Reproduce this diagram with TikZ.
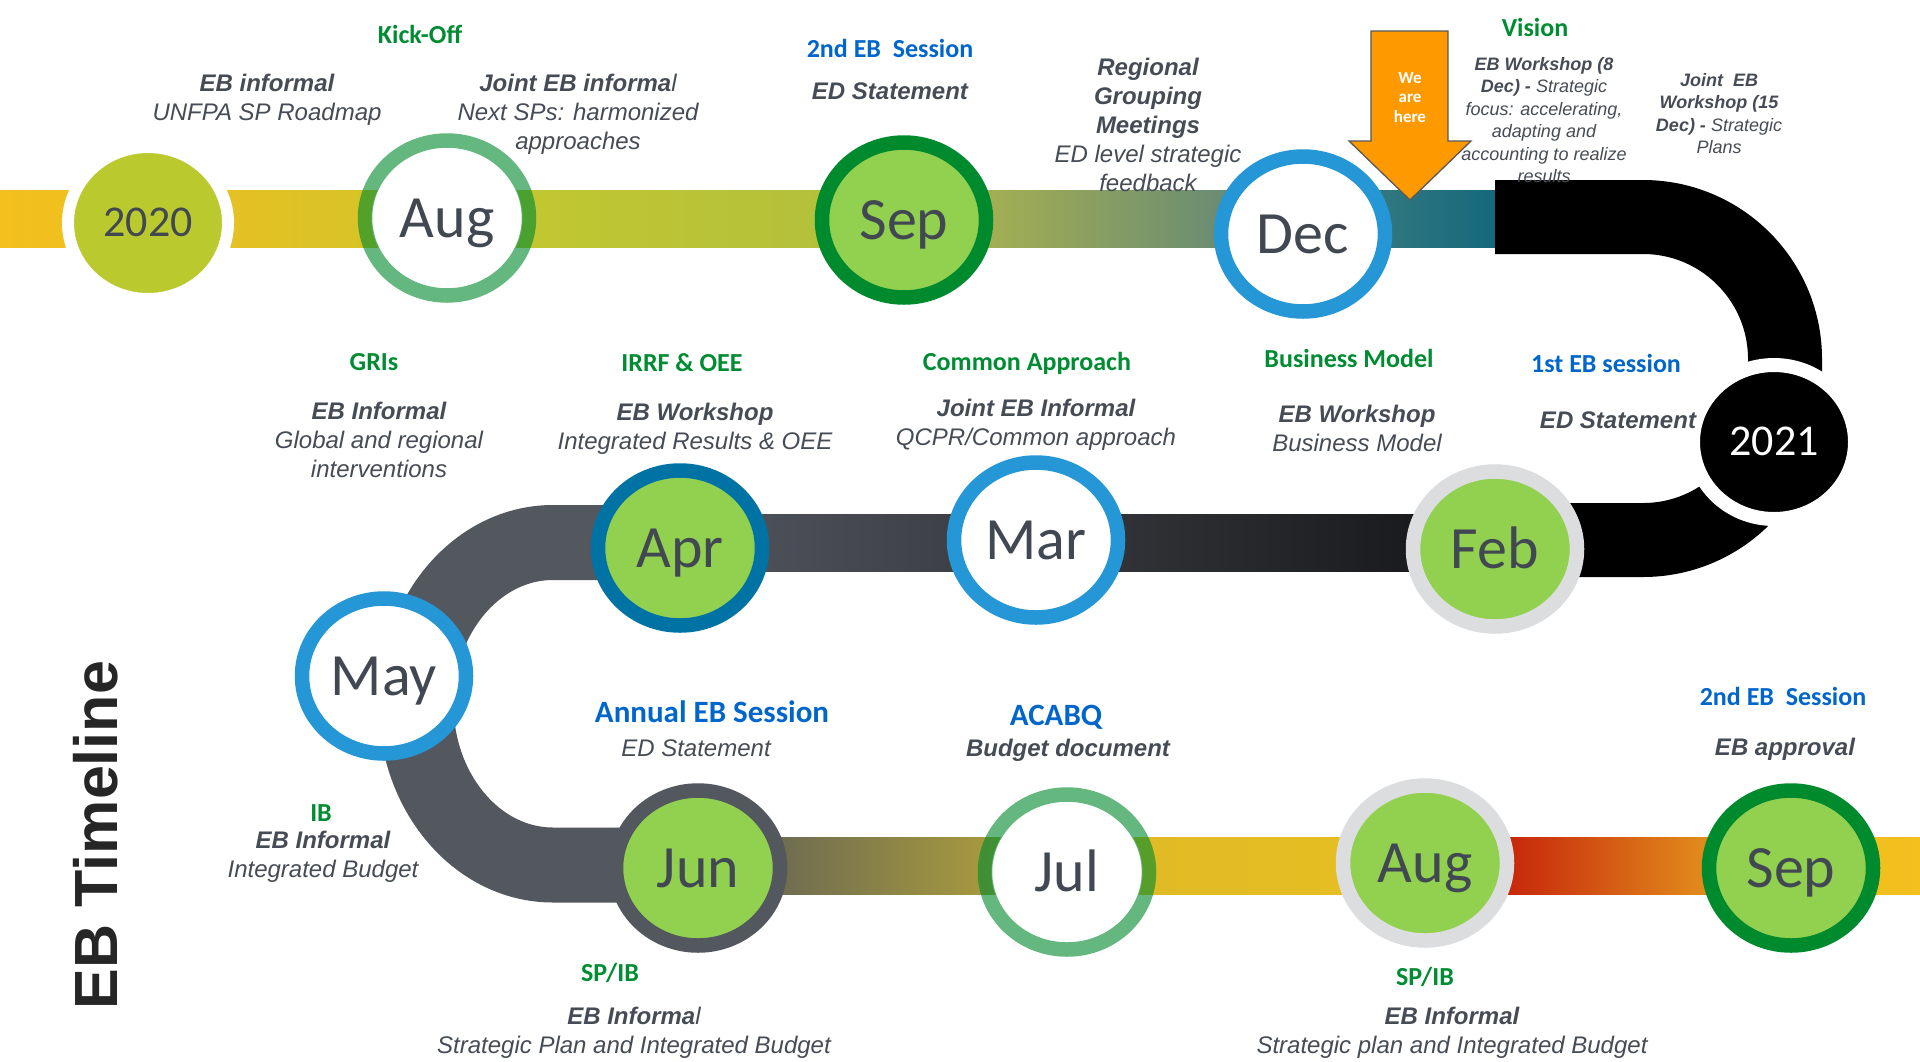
\documentclass[tikz,border=0pt]{standalone}
\usepackage{fontspec}
\setmainfont{Liberation Sans}
\newfontfamily\carlito{Carlito}
\usetikzlibrary{shapes.geometric}
\pgfdeclarelayer{bg}
\pgfsetlayers{bg,main}
\definecolor{mtxt}{RGB}{65,72,82}
\definecolor{dtxt}{RGB}{70,76,86}
\definecolor{hgreen}{RGB}{0,140,50}
\definecolor{hblue}{RGB}{0,102,204}
\definecolor{lgreen}{RGB}{146,208,80}
\definecolor{dgreen}{RGB}{0,138,46}
\definecolor{mblue}{RGB}{37,150,214}
\definecolor{aprblue}{RGB}{0,114,163}
\definecolor{ugray}{RGB}{83,87,94}
\definecolor{lgray}{RGB}{220,221,223}
\definecolor{y2020}{RGB}{186,201,46}
\definecolor{aorange}{RGB}{255,153,0}
\definecolor{aedge}{RGB}{89,89,89}
\definecolor{cTa}{RGB}{243,192,30}
\definecolor{cTb}{RGB}{236,192,33}
\definecolor{cTc}{RGB}{208,196,42}
\definecolor{cTd}{RGB}{198,201,46}
\definecolor{cTe}{RGB}{179,192,59}
\definecolor{cTf}{RGB}{167,177,80}
\definecolor{cTg}{RGB}{102,138,117}
\definecolor{cTh}{RGB}{52,121,128}
\definecolor{cTi}{RGB}{20,104,124}
\definecolor{cMa}{RGB}{82,86,94}
\definecolor{cMb}{RGB}{20,20,22}
\definecolor{cBa}{RGB}{108,106,82}
\definecolor{cBb}{RGB}{187,170,56}
\definecolor{cBc}{RGB}{222,186,38}
\definecolor{cBd}{RGB}{229,190,34}
\definecolor{cBe}{RGB}{197,32,10}
\definecolor{cBf}{RGB}{228,148,30}
\definecolor{cBg}{RGB}{240,190,30}
\definecolor{cBh}{RGB}{243,192,30}
\begin{document}
\begin{tikzpicture}[x=1pt,y=1pt,
 mon/.style={ellipse, minimum width=164pt, minimum height=155pt, line width=14.5pt, inner sep=0pt,
   font=\carlito\fontsize{60}{60}\selectfont, text=mtxt, text height=38.6pt, text depth=0pt},
 yearnode/.style={ellipse, inner sep=0pt, draw=white, font=\carlito\fontsize{44}{44}\selectfont,
   text height=27.8pt, text depth=0pt},
 head/.style={font=\carlito\bfseries\fontsize{26}{30}\selectfont, text=hgreen, inner sep=0pt},
 headb/.style={head, text=hblue},
 bighead/.style={inner sep=0pt, text=hblue, font=\carlito\bfseries\fontsize{31}{36}\selectfont},
 desc/.style={font=\itshape\fontsize{24}{29}\selectfont, text=dtxt, align=center, inner sep=0pt},
 sdesc/.style={font=\itshape\fontsize{18}{22.4}\selectfont, text=dtxt, align=center, inner sep=0pt},
]
\useasboundingbox (0,0) rectangle (1920,-1061);
\begin{pgfonlayer}{bg}
\fill[white] (0,0) rectangle (1920,-1061);
\end{pgfonlayer}

% ---------- month / year nodes ----------
\node[yearnode, minimum width=160pt, minimum height=152pt, line width=12pt, fill=y2020, text=mtxt] (y20) at (148,-223) {2020};
\coordinate (aug1c) at (447,-218);
\fill[white] (aug1c) ellipse [x radius=75.5, y radius=71];
\node[mon, draw=dgreen, draw opacity=0.61] (aug1) at (aug1c) {Aug};
\node[mon, draw=dgreen, fill=lgreen] (sep1) at (904,-220) {Sep};
\node[mon, draw=mblue, fill=white] (dec) at (1303,-234) {Dec};
\node[yearnode, minimum width=162pt, minimum height=154pt, line width=14pt, fill=black, text=white] (y21) at (1774,-442) {2021};
\node[mon, draw=lgray, fill=lgreen] (feb) at (1495,-549) {Feb};
\node[mon, draw=mblue, fill=white] (mar) at (1036,-540) {Mar};
\node[mon, draw=aprblue, fill=lgreen] (apr) at (680,-548) {Apr};
\node[mon, draw=mblue, fill=white] (may) at (384,-676) {May};
\node[mon, draw=ugray, fill=lgreen] (jun) at (698,-868) {Jun};
\coordinate (julc) at (1067,-872);
\fill[white] (julc) ellipse [x radius=75.5, y radius=71];
\node[mon, draw=dgreen, draw opacity=0.61] (jul) at (julc) {Jul};
\node[mon, draw=lgray, fill=lgreen] (aug2) at (1425,-863) {Aug};
\node[mon, draw=dgreen, fill=lgreen] (sep2) at (1791,-868) {Sep};

% ---------- bands ----------
\begin{pgfonlayer}{bg}
\coordinate (t1) at (0,-190); \coordinate (t2) at (0,-247);
\coordinate (m1) at (0,-514); \coordinate (m2) at (0,-571);
\coordinate (b1) at (0,-837); \coordinate (b2) at (0,-894);
\coordinate (bk) at (1495,-217);
\coordinate (s1W) at ([xshift=20pt]sep1.west);
\coordinate (s1E) at ([xshift=-20pt]sep1.east);
\coordinate (dW) at ([xshift=20pt]dec.west);
\coordinate (dE) at ([xshift=-20pt]dec.east);
\coordinate (jE) at ([xshift=-20pt]jun.east);
\coordinate (a2W) at ([xshift=20pt]aug2.west);
\coordinate (a2E) at ([xshift=-20pt]aug2.east);
\coordinate (s2W) at ([xshift=20pt]sep2.west);
\coordinate (s2E) at ([xshift=-20pt]sep2.east);
\coordinate (rend) at (1920,-894);
% top row
\fill[left color=cTa, right color=cTb] (t1) rectangle (y20.center |- t2);
\fill[left color=cTb, right color=cTc] (y20.center |- t1) rectangle (aug1.center |- t2);
\fill[left color=cTd, right color=cTe] (aug1.center |- t1) rectangle (s1W |- t2);
\fill[left color=cTf, right color=cTg] (s1E |- t1) rectangle (dW |- t2);
\fill[left color=cTh, right color=cTi] (dE |- t1) rectangle (bk |- t2);
% middle row
\fill[left color=cMa, right color=cMb] (apr.center |- m1) rectangle (feb.center |- m2);
% bottom row
\fill[left color=cBa, right color=cBb] (jE |- b1) rectangle (jul.center |- b2);
\fill[left color=cBc, right color=cBd] (jul.center |- b1) rectangle (a2W |- b2);
\fill[left color=cBe, right color=cBf] (a2E |- b1) rectangle (s2W |- b2);
\fill[left color=cBg, right color=cBh] (s2E |- b1) rectangle (rend);
% left grey U-turn
\coordinate (mrow) at (0,-542.5);
\coordinate (ul) at (553,-542.5);
\coordinate (brow) at (0,-865);
\draw[ugray, line width=75pt] (apr.center |- mrow) -- (ul)
  arc[start angle=90, end angle=270, x radius=137, y radius=161.25] -- (jun.center |- brow);
% right black U-turn
\coordinate (br1) at (1643,-217);
\coordinate (br2) at (1785,-398);
\coordinate (mrowb) at (0,-540);
\draw[black, line width=74pt] (bk) -- (br1) arc[start angle=90, end angle=0, radius=142]
  -- (br2) arc[start angle=0, end angle=-90, radius=142] -- (feb.center |- mrowb);
\end{pgfonlayer}

% ---------- we are here arrow ----------
\fill[aorange, draw=aedge, line width=1.3pt] (1371,-31) -- (1448,-31) -- (1448,-141) -- (1471,-141)
  -- (1410,-200) -- (1349,-141) -- (1371,-141) -- cycle;
\node[font=\carlito\bfseries\fontsize{17}{19.5}\selectfont, text=white, align=center, inner sep=0pt] (here) at (1410,-97.5) {We\\are\\here};

% ---------- top row texts ----------
\node[head] (kick) at (420,-34) {Kick-Off};
\node[desc] (d1) at (267,-99.5) {{\bfseries EB informal}\\UNFPA SP Roadmap};
\node[desc] (d2) at (578,-114) {{\bfseries Joint EB informa}l\\Next SPs: harmonized\\approaches};
\node[headb] (h2eb) at (890,-48) {2nd EB~ Session};
\node[desc] (d3) at (890,-91) {\bfseries ED Statement};
\node[desc] (d4) at (1148,-124.5) {{\bfseries Regional}\\{\bfseries Grouping}\\{\bfseries Meetings}\\ED level strategic\\feedback};
\node[head] (vis) at (1535,-27) {Vision};
\node[sdesc] (d5) at (1544,-120) {{\bfseries EB Workshop (8}\\{\bfseries Dec) -} Strategic\\focus: accelerating,\\adapting and\\accounting to realize\\results};
\node[sdesc] (d6) at (1719,-113.5) {{\bfseries Joint~ EB}\\{\bfseries Workshop (15}\\{\bfseries Dec) -} Strategic\\Plans};

% ---------- middle row texts ----------
\node[head] (gri) at (374,-362) {GRIs};
\node[desc] (d7) at (379,-440) {{\bfseries EB Informal}\\Global and regional\\interventions};
\node[head] (irrf) at (682,-363) {IRRF \& OEE};
\node[desc] (d8) at (695,-428.5) {{\bfseries EB Workshop}\\Integrated Results \& OEE};
\node[head] (comm) at (1027,-363) {Common Approach};
\node[desc] (d9) at (1036,-424.5) {{\bfseries Joint EB Informal}\\QCPR/Common approach};
\node[head] (bus) at (1349,-358) {Business Model};
\node[desc] (d10) at (1357,-428.5) {{\bfseries EB Workshop}\\Business Model};
\node[headb] (first) at (1606,-363) {1st EB session};
\node[desc] (d11) at (1618,-420) {\bfseries ED Statement};

% ---------- bottom row texts ----------
\node[bighead] (annual) at (712,-712) {Annual EB Session};
\node[desc] (d12) at (696,-748) {ED Statement};
\node[head] (ib) at (321,-813) {IB};
\node[desc] (d13) at (323,-857) {{\bfseries EB Informal}\\Integrated Budget};
\node[head] (spib1) at (610,-973) {SP/IB};
\node[desc] (d14) at (634,-1033) {{\bfseries EB Informa}l\\Strategic Plan and Integrated Budget};
\node[bighead] (acabq) at (1056,-717) {ACABQ};
\node[desc] (d15) at (1068,-750) {\bfseries Budget document};
\node[headb] (h2eb2) at (1783,-696) {2nd EB~ Session};
\node[desc] (d16) at (1785,-749) {\bfseries EB approval};
\node[head] (spib2) at (1425,-977) {SP/IB};
\node[desc] (d17) at (1452,-1033) {{\bfseries EB Informal}\\Strategic plan and Integrated Budget};

% ---------- title ----------
\node[rotate=90, font=\bfseries\fontsize{61}{61}\selectfont, text=black!85, inner sep=0pt] (title) at (96,-835) {EB Timeline};
\end{tikzpicture}
\end{document}
